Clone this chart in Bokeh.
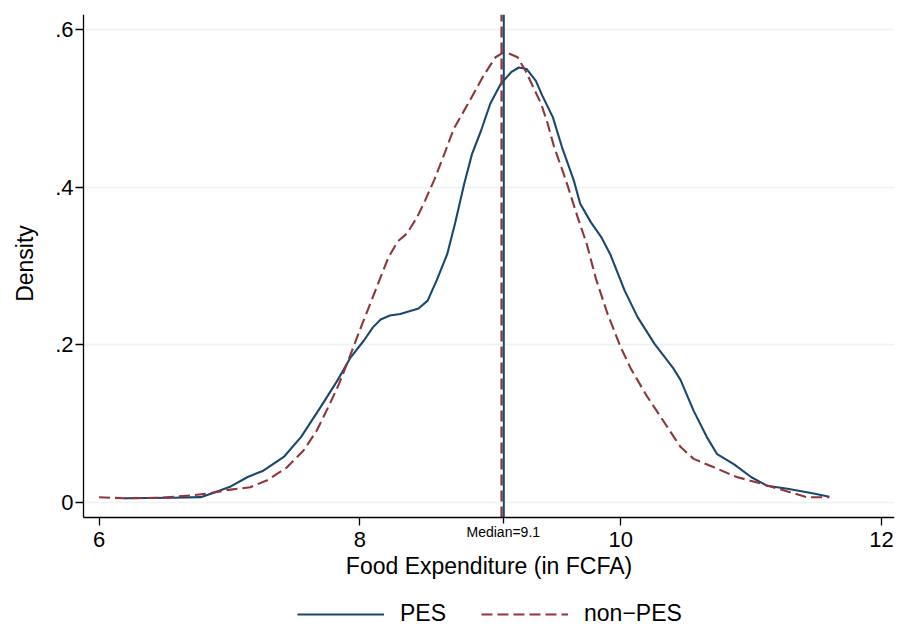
import math
from bokeh.plotting import figure
from bokeh.models import FixedTicker, Label, Legend, LegendItem, Range1d
from bokeh.embed import file_html
from bokeh.resources import INLINE

# ---- data ----
pes_x = [6.19, 6.57, 6.78, 6.88, 7.01, 7.14, 7.26, 7.42, 7.55, 7.70, 7.83, 7.93, 8.03, 8.10, 8.16,
         8.23, 8.31, 8.45, 8.52, 8.59, 8.67, 8.73, 8.80, 8.86, 8.93, 9.00, 9.08, 9.16, 9.22, 9.28, 9.35,
         9.40, 9.48, 9.55, 9.64, 9.69, 9.77, 9.85, 9.92, 10.03, 10.13, 10.26, 10.40, 10.46, 10.56,
         10.66, 10.74, 10.87, 11.00, 11.12, 11.28, 11.48, 11.60]
pes_y = [0.005, 0.0056, 0.0064, 0.012, 0.020, 0.032, 0.040, 0.058, 0.083, 0.121, 0.155, 0.184, 0.205,
         0.222, 0.232, 0.237, 0.239, 0.246, 0.256, 0.282, 0.315, 0.354, 0.404, 0.442, 0.472, 0.506,
         0.531, 0.546, 0.552, 0.550, 0.535, 0.516, 0.489, 0.451, 0.409, 0.379, 0.356, 0.337, 0.315,
         0.269, 0.235, 0.201, 0.171, 0.155, 0.116, 0.083, 0.061, 0.048, 0.032, 0.021, 0.017, 0.011,
         0.007]

nonpes_x = [6.00, 6.19, 6.47, 6.70, 6.83, 7.01, 7.16, 7.29, 7.44, 7.57, 7.67, 7.77, 7.84, 7.93, 8.02,
            8.08, 8.16, 8.22, 8.29, 8.36, 8.44, 8.50, 8.57, 8.65, 8.72, 8.85, 8.95, 9.04, 9.09, 9.14,
            9.21, 9.27, 9.39, 9.44, 9.49, 9.58, 9.67, 9.74, 9.81, 9.90, 10.00, 10.08, 10.20, 10.36,
            10.46, 10.56, 10.72, 10.89, 11.07, 11.23, 11.43, 11.60]
nonpes_y = [0.0063, 0.005, 0.0056, 0.0085, 0.011, 0.016, 0.019, 0.028, 0.044, 0.066, 0.091, 0.125,
            0.150, 0.188, 0.227, 0.252, 0.286, 0.311, 0.331, 0.341, 0.362, 0.383, 0.409, 0.443, 0.474,
            0.512, 0.542, 0.565, 0.570, 0.570, 0.565, 0.548, 0.506, 0.481, 0.451, 0.409, 0.362, 0.328,
            0.284, 0.239, 0.197, 0.169, 0.135, 0.095, 0.070, 0.055, 0.044, 0.032, 0.024, 0.016,
            0.0063, 0.0063]

pes_median = 9.104
nonpes_median = 9.087
median_label_value = 9.1

x_ticks = [6, 8, 10, 12]
y_ticks = [0, 0.2, 0.4, 0.6]
y_tick_labels = ["0", ".2", ".4", ".6"]
series_labels = ["PES", "non\u2212PES"]
x_title = "Food Expenditure (in FCFA)"
y_title = "Density"

# axis extents (plot region) and the full drawing region around it
x_axis_lo, x_axis_hi = 5.881, 12.100
y_axis_lo, y_axis_hi = -0.0194, 0.6193
x_frame_lo = 5.2446
y_frame_lo = -0.1591

BLUE = "#1a476f"
RED = "#90353b"
GRID = "#eaf2f3"
FONT = "Liberation Sans"

p = figure(width=899, height=627,
           x_range=Range1d(x_frame_lo, x_axis_hi), y_range=Range1d(y_frame_lo, y_axis_hi),
           output_backend="svg", toolbar_location=None,
           min_border_left=0, min_border_right=5, min_border_top=14, min_border_bottom=0)
p.outline_line_color = None
p.background_fill_color = "white"
p.border_fill_color = "white"

# grid (horizontal lines only, spanning the plot region)
p.xgrid.visible = False
yg = p.ygrid[0]
if "cross_bounds" in yg.properties():
    yg.ticker = FixedTicker(ticks=y_ticks)
    yg.cross_bounds = (x_axis_lo, x_axis_hi)
    yg.grid_line_color = GRID
    yg.grid_line_width = 1.5
else:
    yg.visible = False
    p.segment(x0=[x_axis_lo] * len(y_ticks), y0=y_ticks, x1=[x_axis_hi] * len(y_ticks), y1=y_ticks,
              line_color=GRID, line_width=1.5)

# axes
for ax in (p.xaxis[0], p.yaxis[0]):
    ax.axis_line_color = "black"
    ax.axis_line_width = 1.3
    ax.major_tick_line_color = "black"
    ax.major_tick_line_width = 1.3
    ax.major_tick_out = 8
    ax.major_tick_in = 0
    ax.major_label_text_font = FONT
    ax.major_label_text_font_size = "22px"
    ax.major_label_text_color = "black"
    ax.axis_label_text_font = FONT
    ax.axis_label_text_font_size = "23px"
    ax.axis_label_text_font_style = "normal"
    ax.axis_label_text_color = "black"

xa = p.xaxis[0]
xa.fixed_location = y_axis_lo
xa.bounds = (x_axis_lo, x_axis_hi)
xa.ticker = FixedTicker(ticks=x_ticks, minor_ticks=[median_label_value])
xa.minor_tick_out = 6
xa.minor_tick_in = 0
xa.minor_tick_line_color = "black"
xa.minor_tick_line_width = 1.3
xa.major_label_standoff = 7
xa.axis_label = x_title
xa.axis_label_standoff = 2

ya = p.yaxis[0]
ya.fixed_location = x_axis_lo
ya.bounds = (y_axis_lo, y_axis_hi)
ya.ticker = FixedTicker(ticks=y_ticks, minor_ticks=[])
ya.major_label_overrides = {t: lab for t, lab in zip(y_ticks, y_tick_labels)}
ya.major_label_standoff = 2

p.add_layout(Label(x=5.4363, y=0.3031, text=y_title, angle=math.pi / 2,
                   text_align="center", text_baseline="middle",
                   text_font=FONT, text_font_size="23px", text_color="black"))

# curves
r_pes = p.line(pes_x, pes_y, line_color=BLUE, line_width=2.1, line_join="round")
r_non = p.line(nonpes_x, nonpes_y, line_color=RED, line_width=2.1, line_dash="11 5", line_join="round")

# median lines (over the plot region only)
p.segment(x0=[nonpes_median], y0=[y_axis_lo], x1=[nonpes_median], y1=[y_axis_hi],
          line_color=RED, line_width=2.3, line_dash="11 5")
p.segment(x0=[pes_median], y0=[y_axis_lo], x1=[pes_median], y1=[y_axis_hi],
          line_color=BLUE, line_width=2)

p.add_layout(Label(x=median_label_value, y=-0.0372, text=f"Median={median_label_value}",
                   text_align="center", text_baseline="middle",
                   text_font=FONT, text_font_size="14px", text_color="black"))

legend = Legend(items=[LegendItem(label=series_labels[0], renderers=[r_pes]),
                       LegendItem(label=series_labels[1], renderers=[r_non])],
                orientation="horizontal", location=(297, 0),
                glyph_width=87, glyph_height=24, label_height=24, label_standoff=16, spacing=35,
                padding=0, margin=0, border_line_alpha=0, background_fill_alpha=0,
                label_text_font=FONT, label_text_font_size="23px",
                label_text_color="black", label_text_baseline="middle")
p.add_layout(legend)

open("out.html", "w").write(file_html(p, INLINE))
